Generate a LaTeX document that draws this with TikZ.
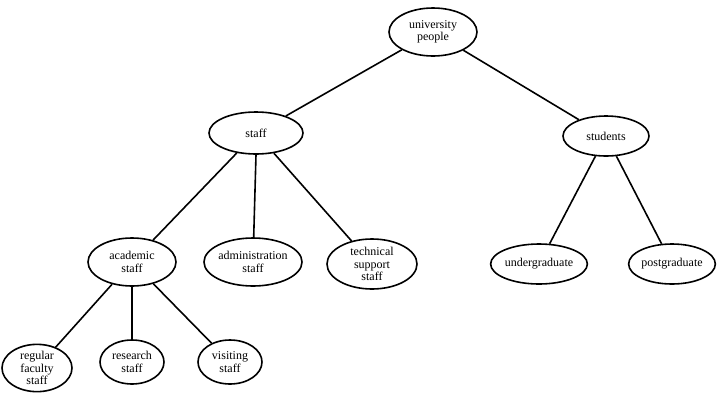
\documentclass[tikz,border=0pt]{standalone}
\usepackage{fontspec}
\setmainfont{Liberation Serif}
\usetikzlibrary{shapes.geometric}
\begin{document}
\begin{tikzpicture}[x=1pt,y=-1pt,
  el/.style={ellipse, draw, line width=1.6pt, inner sep=0pt, align=center,
    font=\fontsize{12}{12.5}\selectfont, minimum width=#1},
  el/.default=88pt,
  edge/.style={line width=1.6pt}]
\useasboundingbox (0,0) rectangle (718,392);
\node[el=88pt, minimum height=48pt] (up) at (433,32) {university\\people};
\node[el=94pt, minimum height=42pt] (staff) at (256,133) {staff};
\node[el=86pt, minimum height=40pt] (stud) at (606,136) {students};
\node[el=88pt, minimum height=48pt] (acad) at (132,262) {academic\\staff};
\node[el=90pt, minimum height=48pt] (admin) at (253,262) {administration\\staff};
\node[el=90pt, minimum height=50pt] (tech) at (372,264) {technical\\support\\staff};
\node[el=90pt, minimum height=40pt] (ug) at (539,264) {undergraduate};
\node[el=86pt, minimum height=40pt] (pg) at (672,264) {postgraduate};
\node[el=70pt, minimum height=46pt] (reg) at (37,368) {regular\\faculty\\staff};
\node[el=64pt, minimum height=44pt] (res) at (132,362) {research\\staff};
\node[el=64pt, minimum height=44pt] (vis) at (230,362) {visiting\\staff};
\draw[edge] (up) -- (staff);
\draw[edge] (up) -- (stud);
\draw[edge] (staff) -- (acad);
\draw[edge] (staff.south) -- (admin);
\draw[edge] (staff) -- (tech);
\draw[edge] (stud) -- (ug);
\draw[edge] (stud) -- (pg);
\draw[edge] (acad) -- (reg);
\draw[edge] (acad.south) -- (res.north);
\draw[edge] (acad) -- (vis);
\end{tikzpicture}
\end{document}
